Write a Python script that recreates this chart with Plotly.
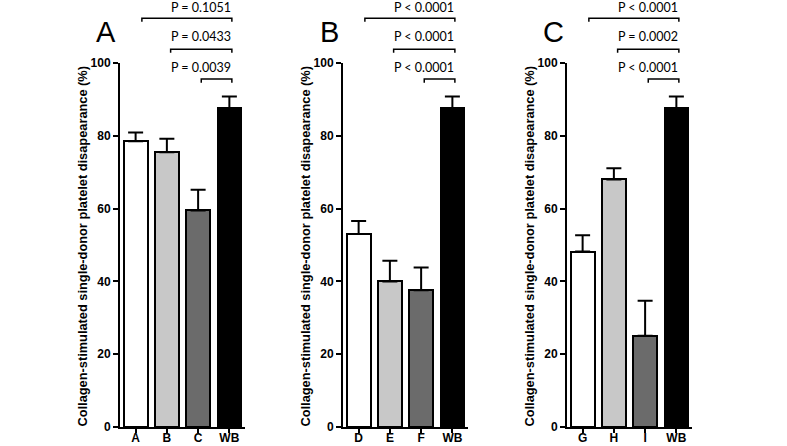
import plotly.graph_objects as go

# ---- data ----
groups_a = ["A", "B", "C", "WB"]
means_a = [78.5, 75.5, 59.5, 87.6]
errs_a = [2.4, 3.7, 5.7, 3.2]
pvals_a = ["P = 0.1051", "P = 0.0433", "P = 0.0039"]

groups_b = ["D", "E", "F", "WB"]
means_b = [53.0, 40.0, 37.6, 87.6]
errs_b = [3.6, 5.7, 6.2, 3.2]
pvals_b = ["P < 0.0001", "P < 0.0001", "P < 0.0001"]

groups_c = ["G", "H", "I", "WB"]
means_c = [48.2, 68.0, 25.1, 87.6]
errs_c = [4.5, 3.1, 9.6, 3.2]
pvals_c = ["P < 0.0001", "P = 0.0002", "P < 0.0001"]

panel_letters = ["A", "B", "C"]
y_ticks = [0, 20, 40, 60, 80, 100]
y_title = "Collagen-stimulated single-donor platelet disapearance (%)"

# comparison brackets vs WB, level in % units
bracket_left = [0, 1, 2]
bracket_levels = [112.3, 103.8, 95.6]
text_levels = [115.2, 107.3, 98.9]

# ---- styling ----
W, H = 787, 446


def px_x(p):
    return p / W


def px_y(p):
    return 1 - p / H


bar_colors = ["white", "#c8c8c8", "#6b6b6b", "black"]
x_domains = [(px_x(120), px_x(245)), (px_x(343), px_x(468)), (px_x(567), px_x(692))]
y_dom = (px_y(427), px_y(63))


def y_to_paper(v):
    return y_dom[0] + v / 100.0 * (y_dom[1] - y_dom[0])


fig = go.Figure()
panels = [(groups_a, means_a, errs_a, pvals_a),
          (groups_b, means_b, errs_b, pvals_b),
          (groups_c, means_c, errs_c, pvals_c)]
axis_px = [120, 343, 567]

shapes = []
annotations = []
for i, (groups, means, errs, pvals) in enumerate(panels):
    sfx = "" if i == 0 else str(i + 1)
    fig.add_trace(go.Bar(
        x=list(range(len(groups))), y=means,
        xaxis="x" + sfx, yaxis="y" + sfx,
        width=0.76,
        marker=dict(color=bar_colors, line=dict(color="black", width=2)),
        error_y=dict(type="data", array=errs, arrayminus=[0] * len(errs),
                     symmetric=False, color="black", thickness=2, width=7.5),
        showlegend=False, hoverinfo="skip",
    ))
    axis_common = dict(showline=True, linecolor="black", linewidth=2,
                       ticks="outside", tickwidth=2, tickcolor="black",
                       showgrid=False, zeroline=False, automargin=False,
                       tickfont=dict(family="Liberation Sans", size=12,
                                     color="black", weight="bold"))
    fig.update_layout(**{
        "xaxis" + sfx: dict(domain=x_domains[i], range=[-0.5, 3.5],
                            tickvals=list(range(len(groups))), ticktext=groups,
                            ticklen=4, ticklabelstandoff=-5,
                            anchor="y" + sfx, **axis_common),
        "yaxis" + sfx: dict(domain=y_dom, range=[0, 100], tickvals=y_ticks,
                            ticklen=5,
                            anchor="x" + sfx, **axis_common),
    })
    xref = "x" + sfx
    x1 = 3.08
    for k in range(3):
        x0 = bracket_left[k] + [0.2, 0.12, 0.1][k]
        yl = y_to_paper(bracket_levels[k])
        yd = y_to_paper(bracket_levels[k] - 1.0)
        shapes.append(dict(type="path", xref=xref, yref="paper",
                           path=f"M {x0},{yd} L {x0},{yl} L {x1},{yl} L {x1},{yd}",
                           line=dict(color="black", width=1.5)))
        annotations.append(dict(x=3.12, y=y_to_paper(text_levels[k]), xref=xref,
                                yref="paper", text=pvals[k], showarrow=False,
                                xanchor="right", yanchor="middle",
                                font=dict(family="Lato", size=12.5, color="black")))
    # panel letter
    annotations.append(dict(x=px_x(axis_px[i] - 14), y=px_y(31.5), xref="paper",
                            yref="paper", text=panel_letters[i], showarrow=False,
                            xanchor="center", yanchor="middle",
                            font=dict(family="Liberation Sans", size=29, color="black")))
    # y axis title
    annotations.append(dict(x=px_x(axis_px[i] - 38), y=px_y(246.5), xref="paper",
                            yref="paper", text=y_title, showarrow=False,
                            textangle=-90, xanchor="center", yanchor="middle",
                            font=dict(family="Liberation Sans", size=12.8,
                                      color="black", weight="bold")))

fig.update_layout(width=W, height=H, margin=dict(l=0, r=0, t=0, b=0),
                  paper_bgcolor="white", plot_bgcolor="white",
                  shapes=shapes, annotations=annotations, bargap=0)

fig.write_html("out.html", config={"displayModeBar": False},
               post_script="document.body.style.margin='0';document.body.style.overflow='hidden';")
